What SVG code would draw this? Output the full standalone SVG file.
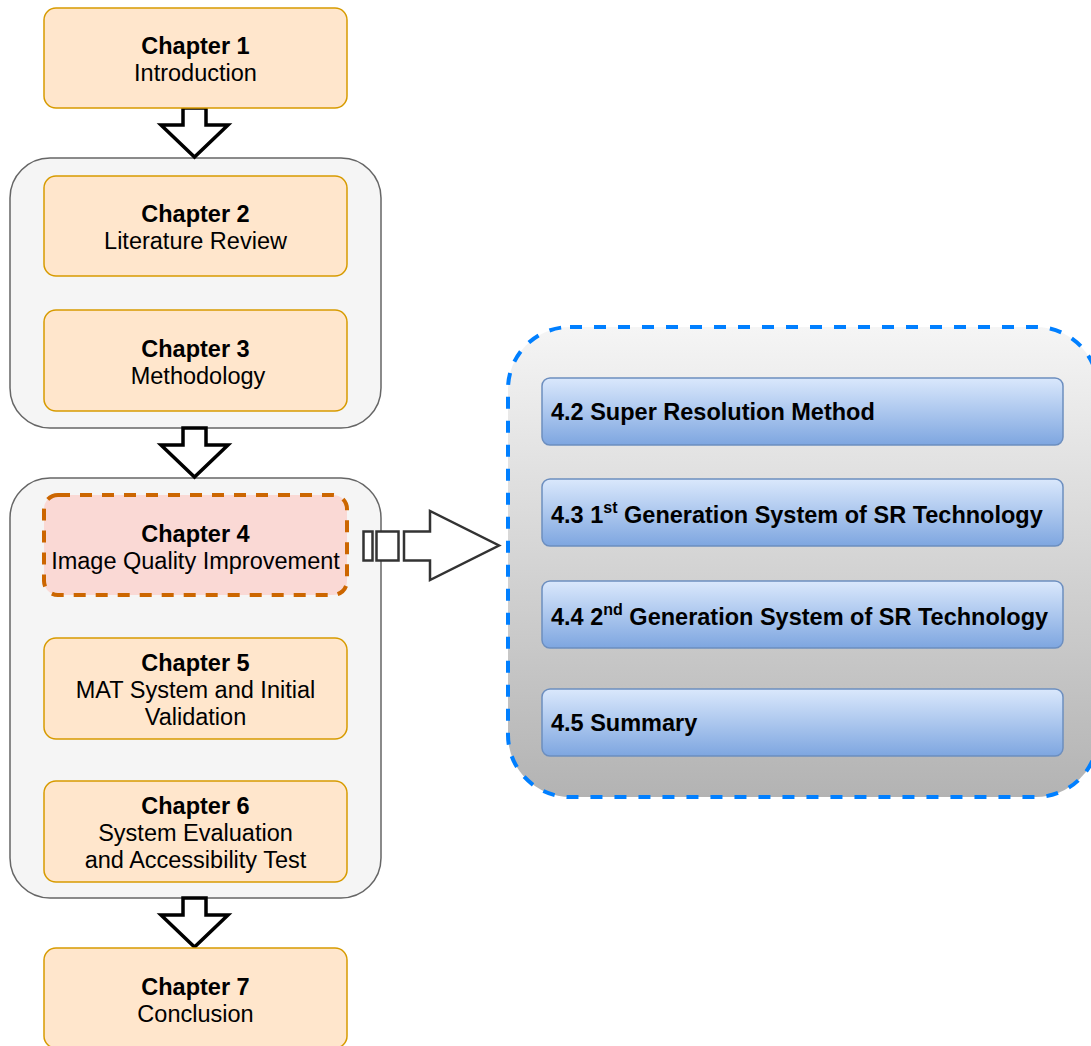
<svg xmlns="http://www.w3.org/2000/svg" width="1091" height="1046" viewBox="0 0 1091 1046">
  <style>
    .chap { fill: #ffe6cc; stroke: #d79b00; stroke-width: 1.5; }
    .group { fill: #f5f5f5; stroke: #666666; stroke-width: 1.5; }
    .sec { fill: url(#secFill); stroke: #6c8ebf; stroke-width: 1.5; }
    .t { font-family: "Liberation Sans", Arial, sans-serif; font-size: 23.5px; fill: #000; }
    .b { font-weight: bold; }
    .mid { text-anchor: middle; }
    .down { fill: #ffffff; stroke: #000000; stroke-width: 3.5; stroke-linejoin: miter; }
  </style>
  <defs>
    <linearGradient id="secFill" x1="0" y1="0" x2="0" y2="1">
      <stop offset="0" stop-color="#dae8fc"/>
      <stop offset="1" stop-color="#7ea6e0"/>
    </linearGradient>
    <linearGradient id="panelFill" x1="0" y1="0" x2="0" y2="1">
      <stop offset="0" stop-color="#f5f5f5"/>
      <stop offset="1" stop-color="#b3b3b3"/>
    </linearGradient>
  </defs>

  <rect width="1091" height="1046" fill="#ffffff"/>

  <!-- grouping containers -->
  <g id="group-review">
    <rect class="group" x="10" y="158" width="371" height="270" rx="40"/>
  </g>
  <g id="group-core">
    <rect class="group" x="10" y="478" width="371" height="420" rx="40"/>
  </g>

  <!-- chapter 4 detail panel -->
  <g id="panel-ch4">
    <rect x="508" y="327" width="590" height="470" rx="62" fill="url(#panelFill)" stroke="#007fff" stroke-width="4" stroke-dasharray="12 12"/>
  </g>

  <g id="connectors">
    <path class="down" d="M183 108 H206 V125 H228 L194.5 157 L161 125 H183 Z"/>
    <path class="down" d="M183 428 H206 V445 H228 L194.5 477 L161 445 H183 Z"/>
    <path class="down" d="M183 898 H206 V915 H228 L194.5 947 L161 915 H183 Z"/>
    <g fill="#ffffff" stroke="#333333" stroke-width="2.5">
      <rect x="363.5" y="531.5" width="9" height="29"/>
      <rect x="376.5" y="531.5" width="22" height="29"/>
      <path d="M404 531.5 H430 V511 L499 545.5 L430 580 V560.5 H404 Z"/>
    </g>
  </g>

  <g id="ch1">
    <rect class="chap" x="44" y="8" width="303" height="100" rx="12"/>
    <text class="t b mid" x="195.5" y="54">Chapter 1</text>
    <text class="t mid" x="195.5" y="81">Introduction</text>
  </g>
  <g id="ch2">
    <rect class="chap" x="44" y="176" width="303" height="100" rx="12"/>
    <text class="t b mid" x="195.5" y="222">Chapter 2</text>
    <text class="t mid" x="195.5" y="249">Literature Review</text>
  </g>
  <g id="ch3">
    <rect class="chap" x="44" y="310" width="303" height="101" rx="12"/>
    <text class="t b mid" x="195.5" y="357">Chapter 3</text>
    <text class="t mid" x="198" y="384">Methodology</text>
  </g>
  <g id="ch4">
    <rect x="44" y="495" width="303" height="100" rx="14" fill="#fad9d5" stroke="#cc6600" stroke-width="4" stroke-dasharray="12 10"/>
    <text class="t b mid" x="195.5" y="542">Chapter 4</text>
    <text class="t mid" x="195.5" y="569">Image Quality Improvement</text>
  </g>
  <g id="ch5">
    <rect class="chap" x="44" y="638" width="303" height="101" rx="12"/>
    <text class="t b mid" x="195.5" y="671">Chapter 5</text>
    <text class="t mid" x="195.5" y="698">MAT System and Initial</text>
    <text class="t mid" x="195.5" y="725">Validation</text>
  </g>
  <g id="ch6">
    <rect class="chap" x="44" y="781" width="303" height="101" rx="12"/>
    <text class="t b mid" x="195.5" y="814">Chapter 6</text>
    <text class="t mid" x="195.5" y="841">System Evaluation</text>
    <text class="t mid" x="195.5" y="868">and Accessibility Test</text>
  </g>
  <g id="ch7">
    <rect class="chap" x="44" y="948" width="303" height="100" rx="12"/>
    <text class="t b mid" x="195.5" y="995">Chapter 7</text>
    <text class="t mid" x="195.5" y="1022">Conclusion</text>
  </g>

  <g id="sec-4-2">
    <rect class="sec" x="542" y="378" width="521" height="67" rx="8"/>
    <text class="t b" x="551" y="420">4.2 Super Resolution Method</text>
  </g>
  <g id="sec-4-3">
    <rect class="sec" x="542" y="479" width="521" height="67" rx="8"/>
    <text class="t b" x="551" y="523">4.3 1<tspan font-size="16" dy="-10">st</tspan><tspan dy="10"> Generation System of SR Technology</tspan></text>
  </g>
  <g id="sec-4-4">
    <rect class="sec" x="542" y="581" width="521" height="67" rx="8"/>
    <text class="t b" x="551" y="625">4.4 2<tspan font-size="16" dy="-10">nd</tspan><tspan dy="10"> Generation System of SR Technology</tspan></text>
  </g>
  <g id="sec-4-5">
    <rect class="sec" x="542" y="689" width="521" height="67" rx="8"/>
    <text class="t b" x="551" y="731">4.5 Summary</text>
  </g>
</svg>
